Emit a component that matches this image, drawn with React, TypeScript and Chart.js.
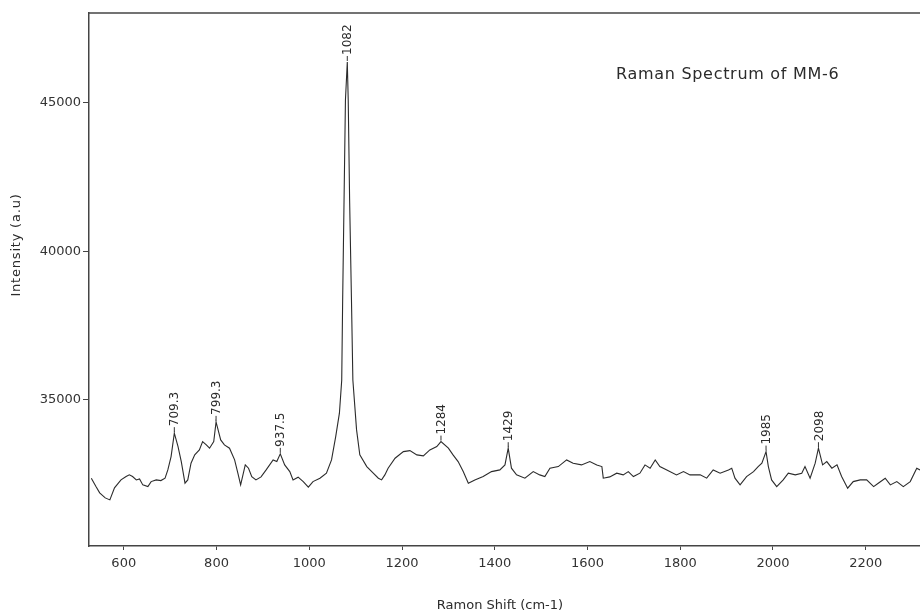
import { useEffect, useRef } from "react";
import { Chart, registerables } from "chart.js";

Chart.register(...registerables);

// Raman shift (cm-1)
const shift = [
  530, 540, 548, 560, 570, 580, 594, 605, 612, 619,
  627, 634, 641, 652, 659, 670, 680, 689, 695, 702,
  709, 717, 724, 732, 738, 745, 753, 763, 770, 778,
  785, 794, 799, 809, 817, 828, 839, 846, 852, 857,
  862, 869, 876, 885, 896, 907, 922, 930, 937.5, 947,
  958, 965, 976, 987, 998, 1008, 1023, 1037, 1048, 1057,
  1065, 1070, 1072, 1075, 1078, 1082, 1084, 1087, 1091, 1094,
  1102, 1109, 1124, 1138, 1149, 1156, 1163, 1170, 1185, 1203,
  1217, 1232, 1246, 1260, 1275, 1284, 1300, 1310, 1321, 1332,
  1343, 1357, 1375, 1393, 1411, 1422, 1429, 1436, 1447, 1465,
  1483, 1497, 1508, 1519, 1537, 1555, 1569, 1587, 1605, 1620,
  1631, 1634, 1648, 1663, 1677, 1688, 1699, 1713, 1724, 1735,
  1746, 1756, 1771, 1792, 1807, 1821, 1843, 1857, 1871, 1886,
  1904, 1911, 1918, 1929, 1943, 1958, 1968, 1976, 1985, 1990,
  1997, 2008, 2022, 2033, 2048, 2062, 2069, 2080, 2091, 2098,
  2107, 2116, 2127, 2138, 2148, 2161, 2173, 2188, 2202, 2217,
  2227, 2242, 2253, 2267, 2281, 2296, 2310, 2317,
];

// Intensity (a.u)
const intensity = [
  32364, 32081, 31869, 31700, 31633, 32037, 32306, 32418, 32475, 32418,
  32306, 32340, 32138, 32081, 32249, 32306, 32283, 32364, 32643, 33091,
  33880, 33428, 32923, 32195, 32306, 32869, 33148, 33317, 33596, 33485,
  33374, 33596, 34260, 33653, 33485, 33374, 32980, 32532, 32138, 32475,
  32811, 32700, 32418, 32306, 32408, 32643, 32980, 32923, 33182, 32811,
  32586, 32306, 32397, 32249, 32061, 32249, 32364, 32532, 32980, 33764,
  34552, 35673, 38367, 41734, 45101, 46380, 45101, 41734, 38367, 35673,
  33990, 33148, 32754, 32532, 32364, 32306, 32475, 32700, 33037, 33259,
  33293, 33148, 33115, 33317, 33428, 33596, 33374, 33148, 32923, 32586,
  32195, 32306, 32418, 32586, 32643, 32811, 33374, 32700, 32475, 32364,
  32586, 32475, 32418, 32700, 32754, 32980, 32869, 32811, 32923, 32811,
  32754, 32364, 32408, 32532, 32475, 32586, 32418, 32532, 32811, 32700,
  32980, 32754, 32643, 32475, 32586, 32475, 32475, 32364, 32643, 32532,
  32643, 32700, 32364, 32138, 32418, 32586, 32754, 32869, 33259, 32754,
  32306, 32081, 32306, 32532, 32475, 32532, 32754, 32364, 32869, 33374,
  32811, 32923, 32700, 32811, 32418, 32027, 32249, 32306, 32306, 32081,
  32195, 32364, 32138, 32249, 32081, 32249, 32700, 32643,
];

const peakShift = [709, 799, 937.5, 1082, 1284, 1429, 1985, 2098];
const peakLabels = ["709.3", "799.3", "937.5", "1082", "1284", "1429", "1985", "2098"];

const xTicks = [600, 800, 1000, 1200, 1400, 1600, 1800, 2000, 2200];
const yTicks = [35000, 40000, 45000];

const chartTitle = "Raman Spectrum of MM-6";
const xTitle = "Ramon Shift (cm-1)";
const yTitle = "Intensity (a.u)";

const FONT = '"DejaVu Sans", sans-serif';
const INK = "#2b2b2b";

const annotate = {
  id: "annotate",
  afterDatasetsDraw(chart: any) {
    const { ctx, chartArea, scales } = chart;
    const xs = scales.x;
    const ys = scales.y;
    ctx.save();

    // top frame line
    ctx.strokeStyle = "#444";
    ctx.lineWidth = 1.5;
    ctx.beginPath();
    ctx.moveTo(chartArea.left, chartArea.top);
    ctx.lineTo(chartArea.right, chartArea.top);
    ctx.stroke();

    // peak labels
    ctx.fillStyle = INK;
    ctx.strokeStyle = "#333";
    ctx.lineWidth = 1;
    ctx.font = `12px ${FONT}`;
    peakShift.forEach((p, i) => {
      const idx = shift.indexOf(p);
      const px = xs.getPixelForValue(p);
      const py = ys.getPixelForValue(intensity[idx]);
      ctx.beginPath();
      ctx.moveTo(px, py - 1);
      ctx.lineTo(px, py - 6);
      ctx.stroke();
      ctx.save();
      ctx.translate(px + 1, py - 7);
      ctx.rotate(-Math.PI / 2);
      ctx.textAlign = "left";
      ctx.textBaseline = "middle";
      ctx.fillText(peakLabels[i], 0, 0);
      ctx.restore();
    });

    // chart title inside plot
    ctx.font = `16px ${FONT}`;
    (ctx as any).letterSpacing = "0.7px";
    ctx.textAlign = "left";
    ctx.textBaseline = "alphabetic";
    ctx.fillText(chartTitle, 616, 79);

    // axis titles
    (ctx as any).letterSpacing = "0px";
    ctx.font = `13px ${FONT}`;
    ctx.textAlign = "center";
    ctx.textBaseline = "middle";
    ctx.fillText(xTitle, 500, 606);

    ctx.save();
    (ctx as any).letterSpacing = "0.8px";
    ctx.translate(17, 245);
    ctx.rotate(-Math.PI / 2);
    ctx.fillText(yTitle, 0, 0);
    ctx.restore();

    ctx.restore();
  },
};

export default function App() {
  const ref = useRef<HTMLCanvasElement | null>(null);

  useEffect(() => {
    if (!ref.current) return;
    const chart = new Chart(ref.current, {
      type: "line",
      data: {
        datasets: [
          {
            data: shift.map((x, i) => ({ x, y: intensity[i] })),
            borderColor: INK,
            borderWidth: 1.1,
            pointRadius: 0,
            tension: 0,
            fill: false,
          },
        ],
      },
      options: {
        responsive: false,
        animation: false,
        layout: { padding: { top: 13, right: 0, left: 0, bottom: 0 } },
        plugins: {
          legend: { display: false },
          title: { display: false },
          tooltip: { enabled: false },
        },
        scales: {
          x: {
            type: "linear",
            min: 525,
            max: 2317,
            afterBuildTicks: (s: any) => {
              s.ticks = xTicks.map((v) => ({ value: v }));
            },
            afterFit: (s: any) => {
              s.height = 68;
            },
            ticks: {
              color: "#333",
              font: { family: FONT, size: 13 },
              padding: 6,
              maxRotation: 0,
              autoSkip: false,
              callback: (v: any) => String(v),
            },
            grid: { drawOnChartArea: false, drawTicks: true, tickLength: 4, color: "#444" },
            border: { display: true, color: "#444", width: 1.5 },
          },
          y: {
            type: "linear",
            min: 30080,
            max: 48030,
            afterBuildTicks: (s: any) => {
              s.ticks = yTicks.map((v) => ({ value: v }));
            },
            afterFit: (s: any) => {
              s.width = 89;
            },
            ticks: {
              color: "#333",
              font: { family: FONT, size: 13 },
              padding: 2,
              callback: (v: any) => String(v),
            },
            grid: { drawOnChartArea: false, drawTicks: true, tickLength: 6, color: "#444" },
            border: { display: true, color: "#444", width: 1.5 },
          },
        },
      },
      plugins: [annotate],
    });
    return () => chart.destroy();
  }, []);

  return (
    <canvas
      ref={ref}
      width={920}
      height={614}
      style={{ position: "absolute", left: 0, top: 0, width: 920, height: 614 }}
    />
  );
}
